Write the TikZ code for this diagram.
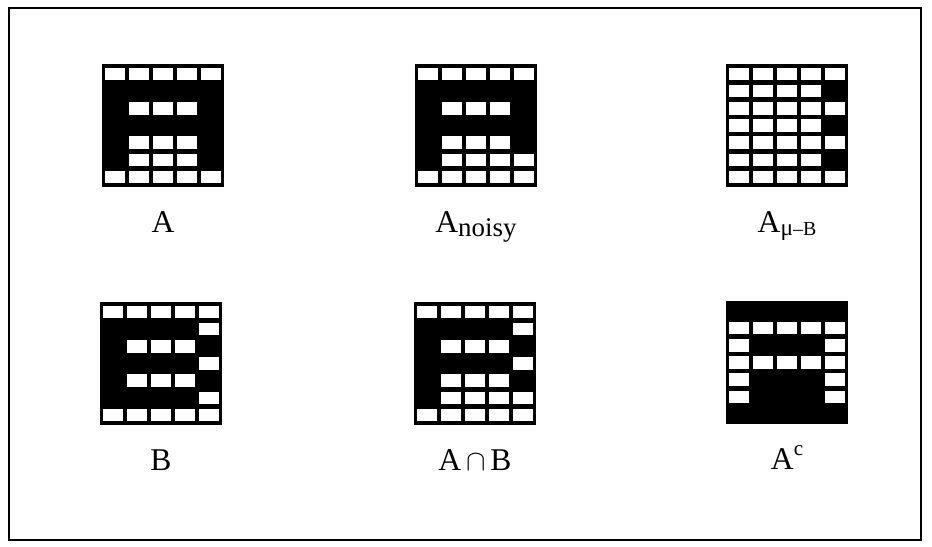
\documentclass[tikz,border=0pt]{standalone}
\usepackage{fontspec}
\setmainfont{Liberation Serif}
\usetikzlibrary{positioning, calc}

% one 5x7 grid: #1 = name, #2 = top-left corner, #3 = rows (1 = white cell)
\newcommand{\cellgrid}[3]{%
  \node[gridbox] (#1) at (#2) {};
  \foreach \cells [count=\r from 0] in {#3} {
    \foreach \c [count=\k from 0] in \cells {
      \ifnum\c=1
        \fill[white] ($(#1.north west)+(2.75+24*\k, 3.65+17.2*\r)$) rectangle ++(20.5,12.5);
      \fi
    }
  }%
}

\begin{document}
\begin{tikzpicture}[
    x=0.03cm, y=-0.03cm,
    font=\fontsize{27}{30}\selectfont,
    gridbox/.style={rectangle, fill=black, inner sep=0pt, outer sep=0pt,
        minimum width=3.66cm, minimum height=3.69cm, anchor=north west},
    lbl/.style={inner sep=0pt, below=1.35cm of #1, anchor=base},
]
\useasboundingbox (0,0) rectangle (932,546);

% ---- Frame ----
\draw[line width=1.3pt] (9,8) rectangle (921,540);

% ---- Top row of grids ----
\cellgrid{gA}{102,64}{{1,1,1,1,1},{0,0,0,0,0},{0,1,1,1,0},{0,0,0,0,0},{0,1,1,1,0},{0,1,1,1,0},{1,1,1,1,1}}
\cellgrid{gAn}{415,64}{{1,1,1,1,1},{0,0,0,0,0},{0,1,1,1,0},{0,0,0,0,0},{0,1,1,1,0},{0,1,1,1,1},{1,1,1,1,1}}
\cellgrid{gAmb}{726,64}{{1,1,1,1,1},{1,1,1,1,0},{1,1,1,1,1},{1,1,1,1,0},{1,1,1,1,1},{1,1,1,1,0},{1,1,1,1,1}}

% ---- Bottom row of grids ----
\cellgrid{gB}{100,302}{{1,1,1,1,1},{0,0,0,0,1},{0,1,1,1,0},{0,0,0,0,1},{0,1,1,1,0},{0,0,0,0,1},{1,1,1,1,1}}
\cellgrid{gAB}{414,302}{{1,1,1,1,1},{0,0,0,0,1},{0,1,1,1,0},{0,0,0,0,1},{0,1,1,1,0},{0,1,1,1,1},{1,1,1,1,1}}
\cellgrid{gAc}{726,301}{{0,0,0,0,0},{1,1,1,1,1},{1,0,0,0,1},{1,1,1,1,1},{1,0,0,0,1},{1,0,0,0,1},{0,0,0,0,0}}

% ---- Labels ----
\node[lbl=gA.south] (lA) {A};
\node[lbl=gAn.south] (lAn) {A\raisebox{-4pt}{\fontsize{23}{26}\selectfont noisy}};
\node[lbl=gAmb.south] (lAmb) {A\raisebox{-3pt}{\fontsize{20}{22}\selectfont μ\fontsize{17}{20}\selectfont–B}};
\node[lbl=gB.south] (lB) {B};
\node[lbl=gAB.south] (lAB) {A\ensuremath{\,\cap\,}B};
\node[lbl=gAc.south] (lAc) {A\raisebox{0.42em}{\fontsize{18}{20}\selectfont c}};

\end{tikzpicture}
\end{document}
